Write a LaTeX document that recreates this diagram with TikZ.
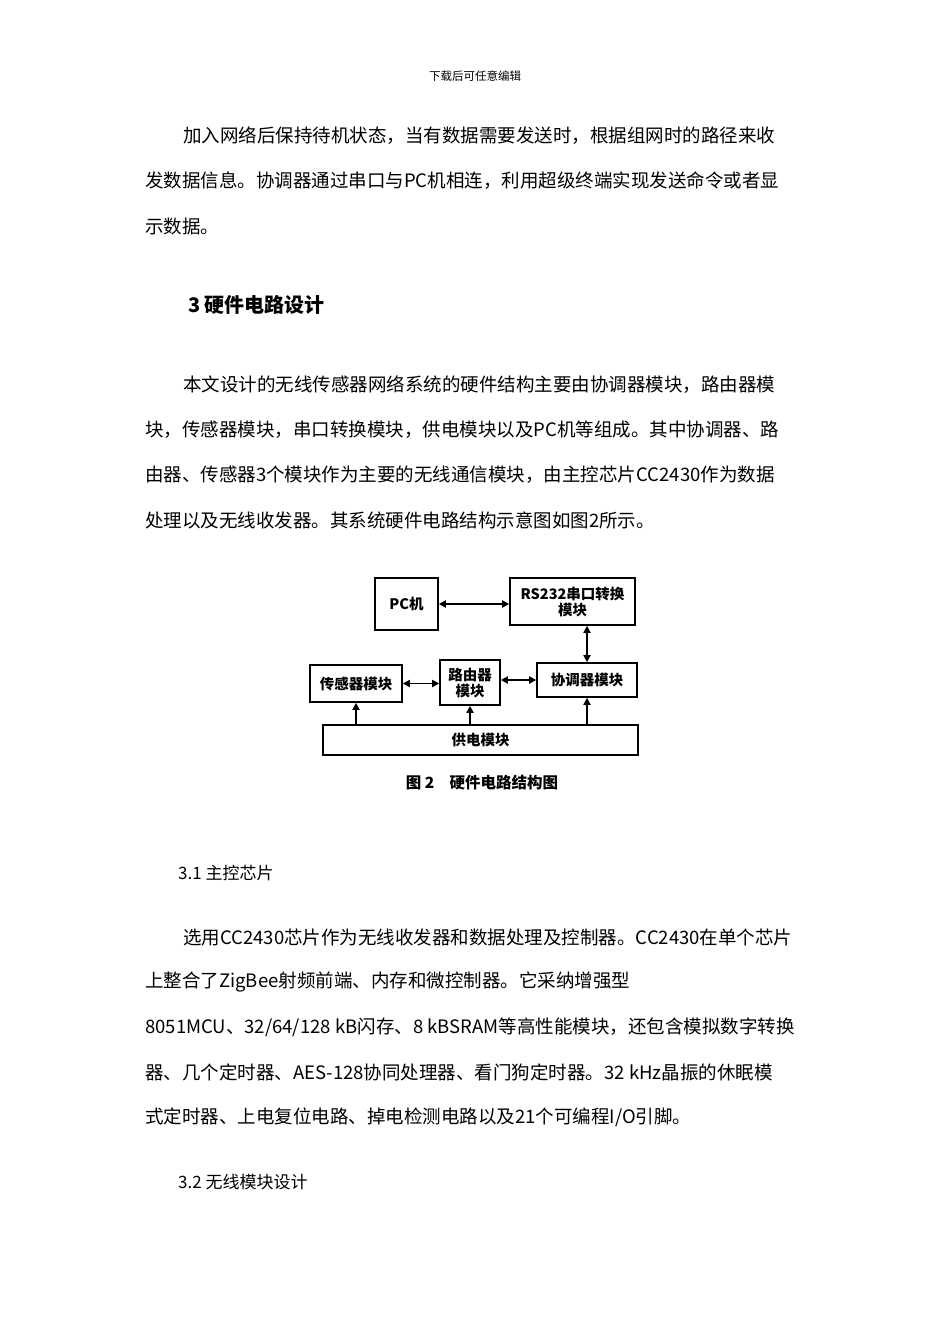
\documentclass[tikz,border=0pt]{standalone}
\usepackage{fontspec}
\usetikzlibrary{arrows.meta}
\setmainfont{Noto Sans CJK SC}
\newfontfamily\cjk{Noto Sans CJK SC}
\begin{document}
\begin{tikzpicture}[x=1pt,y=-1pt,
  txt/.style={anchor=west,inner sep=0,font=\fontsize{18.5}{20}\selectfont},
  bx/.style={draw,line width=1.6pt,inner sep=0,align=center,font=\fontsize{14.5}{16}\selectfont\bfseries},
  ar/.style={line width=1.8pt,-{Triangle[length=7pt,width=7pt]}},
  dar/.style={line width=1.8pt,{Triangle[length=7pt,width=7pt]}-{Triangle[length=7pt,width=7pt]}}]
\useasboundingbox[fill=white] (0,0) rectangle (950,1344);
\node[font=\fontsize{11.5}{12}\selectfont] (hdr) at (475,76) {下载后可任意编辑};
\node[txt] (p1) at (183,136) {加入网络后保持待机状态，当有数据需要发送时，根据组网时的路径来收};
\node[txt] (p2) at (145,181) {发数据信息。协调器通过串口与PC机相连，利用超级终端实现发送命令或者显};
\node[txt] (p3) at (145,226) {示数据。};
\node[txt,font=\fontsize{20}{22}\selectfont\bfseries] (h3) at (188,305) {3\ 硬件电路设计};
\node[txt] (q1) at (183,385) {本文设计的无线传感器网络系统的硬件结构主要由协调器模块，路由器模};
\node[txt] (q2) at (145,430) {块，传感器模块，串口转换模块，供电模块以及PC机等组成。其中协调器、路};
\node[txt] (q3) at (145,475) {由器、传感器3个模块作为主要的无线通信模块，由主控芯片CC2430作为数据};
\node[txt] (q4) at (145,520) {处理以及无线收发器。其系统硬件电路结构示意图如图2所示。};
% diagram
\node[bx,minimum width=63,minimum height=52] (pc) at (406.5,604) {PC机};
\node[bx,minimum width=125,minimum height=47] (rs) at (572.5,601.5) {RS232串口转换\\模块};
\node[bx,minimum width=92,minimum height=37] (sen) at (356,683.5) {传感器模块};
\node[bx,minimum width=60,minimum height=45] (rt) at (470,682.5) {路由器\\模块};
\node[bx,minimum width=100,minimum height=34] (co) at (587,680) {协调器模块};
\node[bx,minimum width=315,minimum height=30] (pw) at (480.5,740) {供电模块};
\draw[dar] (pc) -- (rs.west|-pc);
\draw[dar] (rs.south-|co) -- (co);
\draw[dar] (sen.east) -- (rt.west|-sen.east);
\draw[dar] (rt.east|-co) -- (co.west);
\draw[ar] (pw.north-|sen) -- (sen.south);
\draw[ar] (pw.north-|rt) -- (rt.south);
\draw[ar] (pw.north-|co) -- (co.south);
\node[font=\fontsize{15.5}{16}\selectfont\bfseries] (cap) at (482,783) {图 2\quad 硬件电路结构图};
% section 3.1
\node[txt,font=\fontsize{17}{19}\selectfont] (h31) at (178,873) {3.1\ 主控芯片};
\node[txt] (r1) at (183,937) {选用CC2430芯片作为无线收发器和数据处理及控制器。CC2430在单个芯片};
\node[txt] (r2) at (145,982) {上整合了ZigBee射频前端、内存和微控制器。它采纳增强型};
\node[txt] (r3) at (145,1027) {8051MCU、32/64/128 kB闪存、8 kBSRAM等高性能模块，还包含模拟数字转换};
\node[txt] (r4) at (145,1072) {器、几个定时器、AES-128协同处理器、看门狗定时器。32 kHz晶振的休眠模};
\node[txt] (r5) at (145,1117) {式定时器、上电复位电路、掉电检测电路以及21个可编程I/O引脚。};
\node[txt,font=\fontsize{17}{19}\selectfont] (h32) at (178,1182) {3.2\ 无线模块设计};
\end{tikzpicture}
\end{document}
